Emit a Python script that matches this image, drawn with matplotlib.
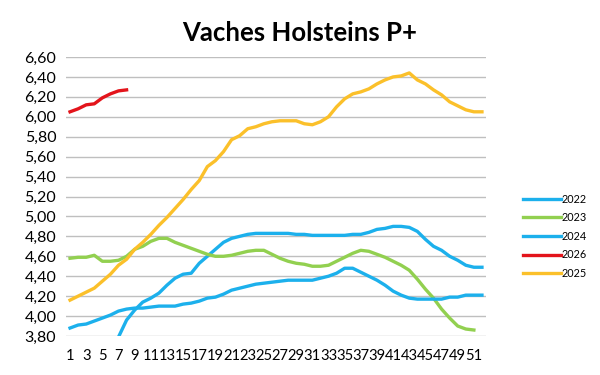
import numpy as np
import matplotlib.pyplot as plt

# weekly values
weeks = np.arange(1, 53)

y2022 = [3.79, 3.96, 4.06, 4.14, 4.18, 4.23, 4.31, 4.38, 4.42, 4.43,
         4.53, 4.60, 4.67, 4.74, 4.78, 4.80, 4.82, 4.83, 4.83, 4.83,
         4.83, 4.83, 4.82, 4.82, 4.81, 4.81, 4.81, 4.81, 4.81, 4.82,
         4.82, 4.84, 4.87, 4.88, 4.90, 4.90, 4.89, 4.85, 4.77, 4.70,
         4.66, 4.60, 4.56, 4.51, 4.49, 4.49]  # weeks 7-52
y2023 = [4.58, 4.59, 4.59, 4.61, 4.55, 4.55, 4.56, 4.60, 4.67, 4.70,
         4.75, 4.78, 4.78, 4.74, 4.71, 4.68, 4.65, 4.62, 4.60, 4.60,
         4.61, 4.63, 4.65, 4.66, 4.66, 4.62, 4.58, 4.55, 4.53, 4.52,
         4.50, 4.50, 4.51, 4.55, 4.59, 4.63, 4.66, 4.65, 4.62, 4.59,
         4.55, 4.51, 4.46, 4.37, 4.27, 4.18, 4.07, 3.98, 3.90, 3.87,
         3.86]  # weeks 1-51
y2024 = [3.88, 3.91, 3.92, 3.95, 3.98, 4.01, 4.05, 4.07, 4.08, 4.08,
         4.09, 4.10, 4.10, 4.10, 4.12, 4.13, 4.15, 4.18, 4.19, 4.22,
         4.26, 4.28, 4.30, 4.32, 4.33, 4.34, 4.35, 4.36, 4.36, 4.36,
         4.36, 4.38, 4.40, 4.43, 4.48, 4.48, 4.44, 4.40, 4.36, 4.31,
         4.25, 4.21, 4.18, 4.17, 4.17, 4.17, 4.17, 4.19, 4.19, 4.21,
         4.21, 4.21]
y2026 = [6.05, 6.08, 6.12, 6.13, 6.19, 6.23, 6.26, 6.27]  # weeks 1-8
y2025 = [4.16, 4.20, 4.24, 4.28, 4.35, 4.42, 4.51, 4.57, 4.67, 4.74,
         4.82, 4.91, 4.99, 5.08, 5.17, 5.27, 5.36, 5.50, 5.56, 5.65,
         5.77, 5.81, 5.88, 5.90, 5.93, 5.95, 5.96, 5.96, 5.96, 5.93,
         5.92, 5.95, 6.00, 6.10, 6.18, 6.23, 6.25, 6.28, 6.33, 6.37,
         6.40, 6.41, 6.44, 6.37, 6.33, 6.27, 6.22, 6.15, 6.11, 6.07,
         6.05, 6.05]

plt.rcParams['font.family'] = ['Lato', 'DejaVu Sans']

fig = plt.figure(figsize=(6, 3.75), dpi=100)
ax = fig.add_axes([0.11, 0.104, 0.70, 0.744])

lw = 2.4
ax.plot(weeks[6:], y2022, color="#1CB0EC", linewidth=lw, label="2022")
ax.plot(weeks[:len(y2023)], y2023, color="#92D050", linewidth=lw, label="2023")
ax.plot(weeks, y2024, color="#1CB0EC", linewidth=lw, label="2024")
ax.plot(weeks[:len(y2026)], y2026, color="#E3141B", linewidth=lw, label="2026")
ax.plot(weeks, y2025, color="#FBC02A", linewidth=lw, label="2025")

ax.set_xlim(0.5, 52.5)
ax.set_ylim(3.8, 6.6)
yticks = np.arange(3.8, 6.61, 0.2)
ax.set_yticks(yticks)
ax.set_yticklabels([f"{v:.2f}".replace(".", ",") for v in yticks], fontsize=11.5)
# odd weeks only, the labels sit edge to edge like in the original
xticks = weeks[::2]
ax.set_xticks(xticks)
ax.set_xticklabels([str(w) for w in xticks], fontsize=10.6)
ax.tick_params(length=0)
ax.tick_params(axis="y", pad=7)
ax.tick_params(axis="x", pad=9)

ax.grid(axis="y", color="#BFBFBF", linewidth=1)
ax.set_axisbelow(True)
for s in ax.spines.values():
    s.set_visible(False)

fig.text(0.5, 0.913, "Vaches Holsteins P+", ha="center", va="center",
         fontsize=18.5, fontweight="bold")

fig.legend(loc="center left", bbox_to_anchor=(0.855, 0.37), frameon=False,
           fontsize=7.8, handlelength=3.5, handletextpad=0.1, labelspacing=0.7)

fig.savefig("out.png")
